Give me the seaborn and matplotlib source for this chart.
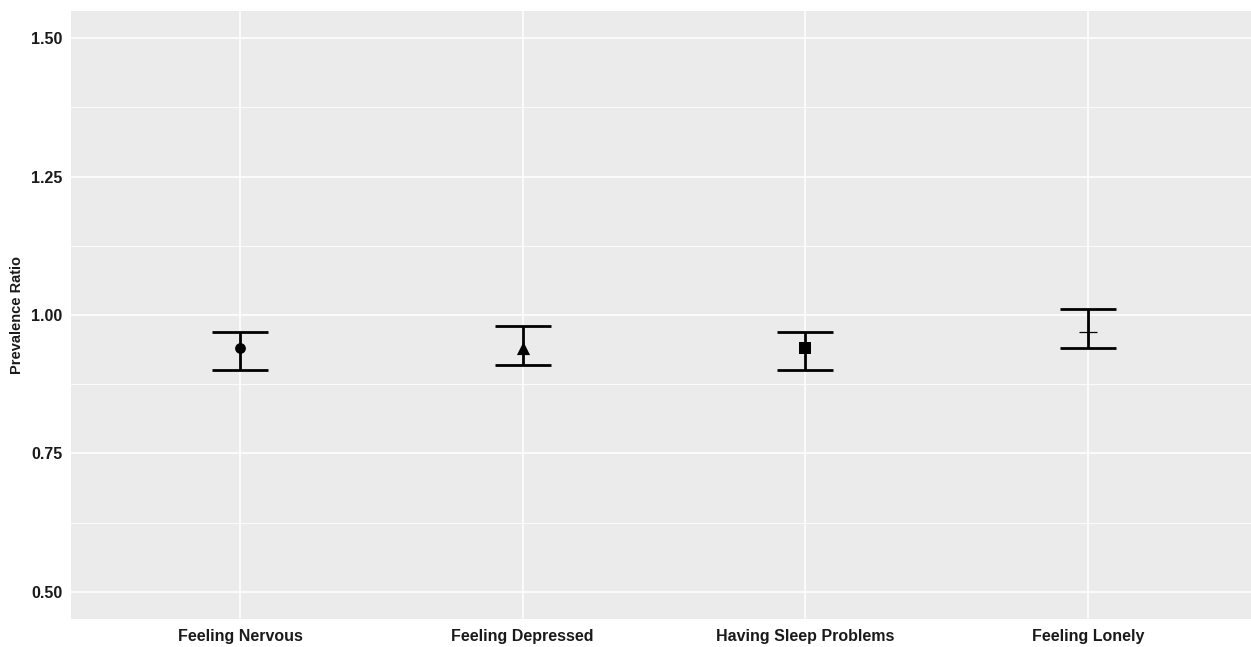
import matplotlib
matplotlib.use("Agg")
import matplotlib.pyplot as plt
import seaborn as sns
import pandas as pd

categories = ["Feeling Nervous", "Feeling Depressed", "Having Sleep Problems", "Feeling Lonely"]
estimates = [0.94, 0.94, 0.94, 0.97]
lower = [0.90, 0.91, 0.90, 0.94]
upper = [0.97, 0.98, 0.97, 1.01]
y_ticks = [0.50, 0.75, 1.00, 1.25, 1.50]
y_tick_labels = ["0.50", "0.75", "1.00", "1.25", "1.50"]

df = pd.DataFrame({"Outcome": categories, "PR": estimates, "lo": lower, "hi": upper})

sns.set_theme(style="darkgrid", rc={
    "axes.facecolor": "#EBEBEB",
    "grid.color": "white",
    "axes.edgecolor": "#EBEBEB",
    "figure.facecolor": "white",
})
plt.rcParams["font.family"] = ["Liberation Sans", "DejaVu Sans"]

fig = plt.figure(figsize=(12.51, 6.47), dpi=100)
ax = fig.add_axes([70.5 / 1251, 1 - 619 / 647, (1257.6 - 70.5) / 1251, (619 - 11) / 647])

x = list(range(len(categories)))
ax.errorbar(x, df["PR"], yerr=[df["PR"] - df["lo"], df["hi"] - df["PR"]],
            fmt="none", ecolor="black", elinewidth=2.0, capsize=20, capthick=2.0, zorder=3)

markers = {"Feeling Nervous": "o", "Feeling Depressed": "^",
           "Having Sleep Problems": "s", "Feeling Lonely": "+"}
sizes = {"Feeling Nervous": 60, "Feeling Depressed": 90,
         "Having Sleep Problems": 65, "Feeling Lonely": 170}
for xi, (cat, val) in enumerate(zip(categories, estimates)):
    ax.scatter([xi], [val], marker=markers[cat], s=sizes[cat], color="black",
               linewidths=0.9 if markers[cat] == "+" else 0, zorder=4)

ax.set_xlim(-0.6, 3.6)
ax.set_ylim(0.451, 1.549)
ax.set_xticks(x)
ax.set_xticklabels(categories, fontsize=11.5, fontweight="bold", color="#1a1a1a")
ax.set_yticks(y_ticks)
ax.set_yticklabels(y_tick_labels, fontsize=11.5, fontweight="bold", color="#1a1a1a")
ax.set_yticks([0.625, 0.875, 1.125, 1.375], minor=True)
ax.grid(which="major", color="white", linewidth=1.1)
ax.grid(which="minor", axis="y", color="white", linewidth=0.6)
ax.tick_params(axis="both", which="major", length=3, width=0.8, color="#333333", pad=3)
ax.tick_params(axis="both", which="minor", length=0)
ax.tick_params(axis="x", pad=4.5)
ax.set_xlabel("")
ax.set_ylabel("Prevalence Ratio", fontsize=10.5, fontweight="bold", color="#1a1a1a", labelpad=5)
for s in ax.spines.values():
    s.set_visible(False)

fig.savefig("out.png", dpi=100)
